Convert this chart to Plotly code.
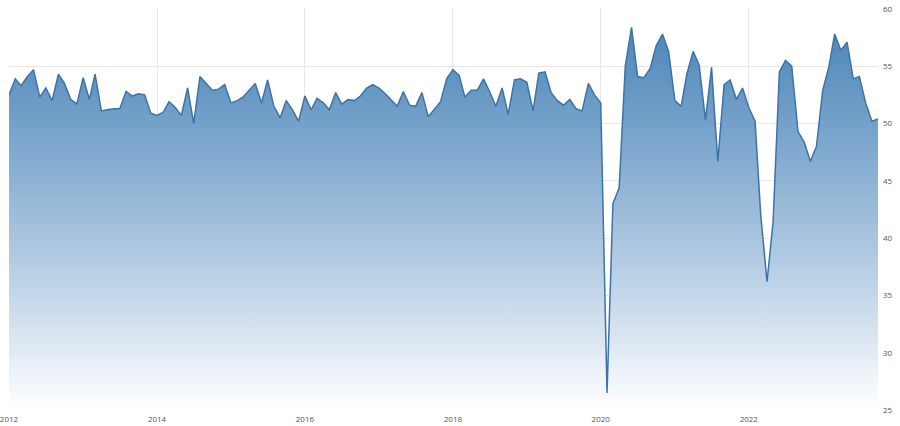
import pandas as pd
import plotly.graph_objects as go

# monthly readings, Jan 2012 - Oct 2023
start_month = "2012-01-01"
pmi_2012 = [52.5, 53.9, 53.3, 54.1, 54.7, 52.3, 53.1, 52.0, 54.3, 53.5, 52.1, 51.7]
pmi_2013 = [54.0, 52.1, 54.3, 51.1, 51.2, 51.3, 51.3, 52.8, 52.4, 52.6, 52.5, 50.9]
pmi_2014 = [50.7, 51.0, 51.9, 51.4, 50.7, 53.1, 50.0, 54.1, 53.5, 52.9, 53.0, 53.4]
pmi_2015 = [51.8, 52.0, 52.3, 52.9, 53.5, 51.8, 53.8, 51.5, 50.5, 52.0, 51.2, 50.2]
pmi_2016 = [52.4, 51.2, 52.2, 51.8, 51.2, 52.7, 51.7, 52.1, 52.0, 52.4, 53.1, 53.4]
pmi_2017 = [53.1, 52.6, 52.1, 51.5, 52.8, 51.6, 51.5, 52.7, 50.6, 51.2, 51.9, 53.9]
pmi_2018 = [54.7, 54.2, 52.3, 52.9, 52.9, 53.9, 52.8, 51.5, 53.1, 50.8, 53.8, 53.9]
pmi_2019 = [53.6, 51.1, 54.4, 54.5, 52.7, 52.0, 51.6, 52.1, 51.3, 51.1, 53.5, 52.5]
pmi_2020 = [51.8, 26.5, 43.0, 44.4, 55.0, 58.4, 54.1, 54.0, 54.8, 56.8, 57.8, 56.3]
pmi_2021 = [52.0, 51.5, 54.3, 56.3, 55.1, 50.3, 54.9, 46.7, 53.4, 53.8, 52.1, 53.1]
pmi_2022 = [51.4, 50.2, 42.0, 36.2, 41.4, 54.5, 55.5, 55.0, 49.3, 48.4, 46.7, 48.0]
pmi_2023 = [52.9, 55.0, 57.8, 56.4, 57.1, 53.9, 54.1, 51.8, 50.2, 50.4]

values = (pmi_2012 + pmi_2013 + pmi_2014 + pmi_2015 + pmi_2016 + pmi_2017
          + pmi_2018 + pmi_2019 + pmi_2020 + pmi_2021 + pmi_2022 + pmi_2023)
months = pd.date_range(start_month, periods=len(values), freq="MS")

y_ticks = [25, 30, 35, 40, 45, 50, 55, 60]

fig = go.Figure()

fig.add_trace(go.Scatter(
    x=months, y=values,
    mode="lines",
    line=dict(color="#3d73a5", width=1.5),
    fill="tozeroy",
    fillgradient=dict(
        type="vertical",
        start=25, stop=59,
        colorscale=[[0, "rgba(255,255,255,1)"], [0.35, "#b9cfe5"],
                    [0.7, "#7aa5cc"], [1, "#4a84b6"]],
    ),
    hoverinfo="x+y",
))

fig.update_layout(
    width=900, height=426,
    showlegend=False,
    plot_bgcolor="white",
    paper_bgcolor="white",
    margin=dict(l=9, r=22, t=8, b=15, autoexpand=False),
    font=dict(family="Open Sans", size=8, color="#555"),
    xaxis=dict(range=[months[0], months[-1]],
               tick0=start_month, dtick="M24", tickformat="%Y",
               showgrid=True, gridcolor="#e8e8e8", gridwidth=1,
               zeroline=False, showline=False, ticks="",
               automargin=False, ticklabeloverflow="allow",
               ticklabelstandoff=2,
               tickfont=dict(size=8, color="#555")),
    # a touch of padding so the 25 and 60 grid lines get drawn
    yaxis=dict(range=[24.92, 60.08], side="right",
               tickvals=y_ticks,
               showgrid=True, gridcolor="#e8e8e8", gridwidth=1,
               zeroline=False, showline=False, ticks="",
               automargin=False, ticklabeloverflow="allow",
               ticklabelstandoff=4,
               tickfont=dict(size=8, color="#555")),
)

# page body has a default 8px margin; drop it so the figure fills the window
fig.write_html("out.html",
               config={"displayModeBar": False},
               post_script="document.body.style.margin='0px';")
